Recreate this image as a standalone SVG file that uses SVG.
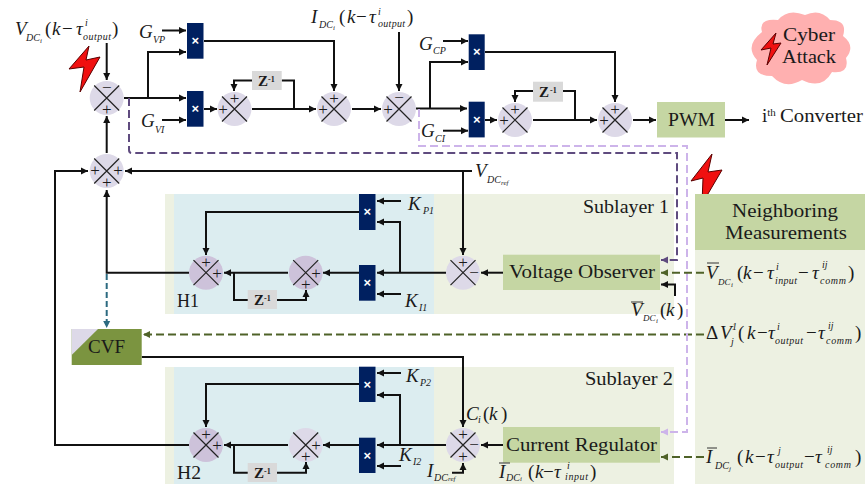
<svg xmlns="http://www.w3.org/2000/svg" xmlns:xlink="http://www.w3.org/1999/xlink" width="865" height="484" viewBox="0 0 865 484">
<style>
text{font-family:"Liberation Serif",serif;fill:#1a1a1a}
.t{font-size:19px}
.m{font-size:19px;font-style:italic}
.u{font-size:19px}
.s{font-size:10px;font-style:italic}
.ss{font-size:7px;font-style:italic}
.sg{font-size:17px;text-anchor:middle}
.wx{font-size:13px;font-weight:bold;fill:#fff;text-anchor:middle;font-family:"Liberation Sans",sans-serif}
.zb{font-size:15px;font-weight:bold}
.zs{font-size:8px;font-weight:bold}
.b{fill:none;stroke:#111;stroke-width:2}
.ba{fill:none;stroke:#111;stroke-width:2;marker-end:url(#ab)}
.dp{fill:none;stroke:#5f4b7f;stroke-width:2;stroke-dasharray:8 4;marker-end:url(#ap)}
.lp{fill:none;stroke:#cdb4ea;stroke-width:2;stroke-dasharray:8 4;marker-end:url(#al)}
.ol{fill:none;stroke:#4f6228;stroke-width:2;stroke-dasharray:8 4;marker-end:url(#ao)}
.te{fill:none;stroke:#2c6a80;stroke-width:2;stroke-dasharray:6 3;marker-end:url(#at)}
.x{fill:#002060}
.g{fill:#c5d6a3}
.z{fill:#d9d9d9}
.bar{stroke:#333;stroke-width:1;fill:none}
.bolt{fill:#f01010;stroke:#5a0000;stroke-width:1}
</style>
<defs>
<marker id="ab" markerUnits="userSpaceOnUse" markerWidth="8" markerHeight="8" refX="7" refY="4" orient="auto"><path d="M0,.5L7,4L0,7.500z" fill="#111"/></marker>
<marker id="ap" markerUnits="userSpaceOnUse" markerWidth="8" markerHeight="8" refX="7" refY="4" orient="auto"><path d="M0,.5L7,4L0,7.500z" fill="#5f4b7f"/></marker>
<marker id="al" markerUnits="userSpaceOnUse" markerWidth="8" markerHeight="8" refX="7" refY="4" orient="auto"><path d="M0,.5L7,4L0,7.500z" fill="#cdb4ea"/></marker>
<marker id="ao" markerUnits="userSpaceOnUse" markerWidth="8" markerHeight="8" refX="7" refY="4" orient="auto"><path d="M0,.5L7,4L0,7.500z" fill="#4f6228"/></marker>
<marker id="at" markerUnits="userSpaceOnUse" markerWidth="8" markerHeight="8" refX="7" refY="4" orient="auto"><path d="M0,.5L7,4L0,7.500z" fill="#2c6a80"/></marker>
<g id="sum"><circle r="17" fill="#ddd9e8"/><path d="M-12.500,-12.500L12.500,12.500M12.500,-12.500L-12.500,12.500" stroke="#222" stroke-width="1.200"/></g>
<g id="sumd"><circle r="17" fill="#cdc2da"/><path d="M-12.500,-12.500L12.500,12.500M12.500,-12.500L-12.500,12.500" stroke="#222" stroke-width="1.200"/></g>
</defs>
<rect width="865" height="484" fill="#fff"/>

<g id="panels">
<rect x="165" y="194" width="509" height="120" fill="#edf1e2"/>
<rect x="174" y="194" width="260" height="120" fill="#dcedf0"/>
<rect x="165" y="367" width="509" height="117" fill="#edf1e2"/>
<rect x="174" y="367" width="260" height="117" fill="#dcedf0"/>
<rect x="695" y="250" width="170" height="234" fill="#edf1e2"/>
</g>

<g id="connectors">
<path class="ba" d="M106.700,43V80"/>
<path class="ba" d="M124,98H186"/>
<path class="ba" d="M148,98V52H186"/>
<path class="ba" d="M162,30.500H186"/>
<path class="ba" d="M162,120H186"/>
<path class="ba" d="M204,41H334V91"/>
<path class="ba" d="M204,109H217"/>
<path class="ba" d="M252,80.500H234V91"/>
<path class="b" d="M281.700,80.500H294V109"/>
<path class="ba" d="M252,109H316"/>
<path class="ba" d="M352,109H381"/>
<path class="ba" d="M399,32V91"/>
<path class="ba" d="M416,108.500H467"/>
<path class="ba" d="M430,108.500V62H468"/>
<path class="ba" d="M443,41H468"/>
<path class="ba" d="M443,130.700H468"/>
<path class="ba" d="M485,120H497"/>
<path class="ba" d="M485,52H615V102"/>
<path class="ba" d="M533,91H515V102"/>
<path class="b" d="M563,91H575V120"/>
<path class="ba" d="M533,120H597"/>
<path class="ba" d="M633,120H656"/>
<path class="ba" d="M725,120H749"/>
<path class="ba" d="M472,171H125"/>
<path class="ba" d="M463,171V255"/>
<path class="ba" d="M106.700,153V116"/>
<path class="ba" d="M189,272.700H106.700V190"/>
<path class="ba" d="M189,445H55V171H88"/>
<path class="te" d="M106.700,274V328"/>
<path class="ol" d="M704,334.500H143"/>
<path class="ba" d="M141.700,357H463V427"/>
<path class="ba" d="M401,201H377"/>
<path class="ba" d="M401,294H377"/>
<path class="ba" d="M400,272.700V222H377"/>
<path class="ba" d="M359,212H206V255"/>
<path class="ba" d="M446,272.700H377"/>
<path class="ba" d="M359,272.700H323"/>
<path class="ba" d="M288,272.700H224"/>
<path class="b" d="M234,272.700V300H248"/>
<path class="ba" d="M277,300H306V290"/>
<path class="ba" d="M503,272.700H481"/>
<path class="dp" d="M129,98V150Q129,153 132,153H677V260H661"/>
<path class="lp" d="M419,109V146H687V432H661"/>
<path class="ol" d="M704,272.700H661"/>
<path class="ol" d="M704,457H661"/>
<path class="ba" d="M675,296V284.500H661"/>
<path class="ba" d="M503,445H481"/>
<path class="ba" d="M452,472.700H463V463"/>
<path class="ba" d="M401,373H377"/>
<path class="ba" d="M401,466H377"/>
<path class="ba" d="M400,445V395H377"/>
<path class="ba" d="M359,384H206V427"/>
<path class="ba" d="M446,445H377"/>
<path class="ba" d="M359,445H323"/>
<path class="ba" d="M288,445H224"/>
<path class="b" d="M234,445V472.700H248"/>
<path class="ba" d="M277,472.700H306V462"/>
</g>

<g id="sum-verr"><use href="#sum" x="106.700" y="98"/><text class="sg" x="106.700" y="93">−</text><text class="sg" x="106.700" y="115">+</text></g>
<g id="sum-ref"><use href="#sum" x="106.700" y="171"/><text class="sg" x="95" y="176">+</text><text class="sg" x="118" y="176">+</text><text class="sg" x="106.700" y="188">+</text></g>
<g id="mul-vp"><rect class="x" x="187" y="23" width="16.500" height="35.700"/><text class="wx" x="195.200" y="45">×</text></g>
<g id="mul-vi"><rect class="x" x="187" y="91" width="16.500" height="35.700"/><text class="wx" x="195.200" y="113">×</text></g>
<g id="sum-vi"><use href="#sum" x="234.500" y="109"/><text class="sg" x="234.500" y="104">+</text><text class="sg" x="223" y="115">+</text></g>
<g id="z-v"><rect class="z" x="252" y="71" width="29.700" height="19"/><text class="zb" x="258" y="86">Z</text><text class="zs" x="268" y="82">-1</text></g>
<g id="sum-v"><use href="#sum" x="334" y="109"/><text class="sg" x="334" y="104">+</text><text class="sg" x="323" y="115">+</text></g>
<g id="sum-i"><use href="#sum" x="399" y="109"/><text class="sg" x="399" y="103">−</text><text class="sg" x="388" y="115">+</text></g>
<g id="mul-cp"><rect class="x" x="468.700" y="34.300" width="16" height="35.700"/><text class="wx" x="476.700" y="56">×</text></g>
<g id="mul-ci"><rect class="x" x="468.700" y="101.700" width="16" height="35.700"/><text class="wx" x="476.700" y="124">×</text></g>
<g id="sum-ci"><use href="#sum" x="515" y="120"/><text class="sg" x="515" y="115">+</text><text class="sg" x="504" y="126">+</text></g>
<g id="z-c"><rect class="z" x="533" y="81.700" width="30" height="20"/><text class="zb" x="539" y="97">Z</text><text class="zs" x="550" y="93">-1</text></g>
<g id="sum-c"><use href="#sum" x="615" y="120"/><text class="sg" x="615" y="115">+</text><text class="sg" x="604" y="126">+</text></g>
<g id="pwm"><rect class="g" x="657" y="102" width="68" height="35.500"/><text class="t" x="668" y="126" textLength="47" lengthAdjust="spacingAndGlyphs">PWM</text></g>
<g id="converter"><text class="t" x="762" y="122">i<tspan font-size="11" dy="-6">th</tspan></text><text class="t" x="780" y="122" textLength="83" lengthAdjust="spacingAndGlyphs">Converter</text></g>
<g id="cloud"><path fill="#ffb0b0" d="M762,32Q758,18 778,20Q788,8 805,15Q820,8 830,20Q848,20 843,36Q856,46 846,58Q850,74 832,72Q822,90 802,80Q785,90 772,76Q752,76 757,60Q744,46 762,32Z"/><path class="bolt" d="M776,33L761,50L771,48L767,65L781,43L773,44Z"/><text class="t" x="783" y="41" textLength="52" lengthAdjust="spacingAndGlyphs">Cyber</text><text class="t" x="782" y="63" textLength="54" lengthAdjust="spacingAndGlyphs">Attack</text></g>
<g id="bolt-1"><path class="bolt" d="M89,46L69,69L84,67L80,92L100,57L86,60Z"/></g>
<g id="bolt-2"><path class="bolt" d="M712,154L691,181L703,178L702,204L722,170L708,172Z"/></g>

<g id="sublayer1-label"><text class="t" x="583" y="212.700" textLength="86" lengthAdjust="spacingAndGlyphs">Sublayer 1</text></g>
<g id="mul-kp1"><rect class="x" x="359" y="194" width="16.500" height="36"/><text class="wx" x="367.200" y="216">×</text></g>
<g id="mul-ki1"><rect class="x" x="359" y="265" width="16.500" height="35.700"/><text class="wx" x="367.200" y="287">×</text></g>
<g id="sum-h1"><use href="#sumd" x="206" y="272.700"/><text class="sg" x="206" y="268">+</text><text class="sg" x="217" y="279">+</text></g>
<g id="sum-i1"><use href="#sumd" x="305.700" y="272.700"/><text class="sg" x="316" y="279">+</text><text class="sg" x="305.700" y="290">+</text></g>
<g id="z-1"><rect class="z" x="247.700" y="290" width="29.300" height="19"/><text class="zb" x="254" y="305">Z</text><text class="zs" x="264" y="301">-1</text></g>
<g id="sum-e1"><use href="#sum" x="463" y="272.700"/><text class="sg" x="463" y="268">+</text><text class="sg" x="474" y="278">−</text></g>
<g id="h1"><text class="t" x="177" y="307" textLength="22" lengthAdjust="spacingAndGlyphs">H1</text></g>
<g id="voltage-observer"><rect class="g" x="503" y="254.700" width="157" height="35.300"/><text class="t" x="509" y="278" textLength="146" lengthAdjust="spacingAndGlyphs">Voltage Observer</text></g>
<g id="neighboring"><rect class="g" x="695" y="194" width="170" height="56"/><text class="t" x="732" y="217" textLength="106" lengthAdjust="spacingAndGlyphs">Neighboring</text><text class="t" x="725" y="239" textLength="122" lengthAdjust="spacingAndGlyphs">Measurements</text></g>
<g id="cvf"><rect x="71.700" y="329" width="70" height="36" fill="#7b9440"/><path d="M71.700,329H98L71.700,355z" fill="#ddd9e8"/><text class="t" x="88" y="352.700" textLength="37" lengthAdjust="spacingAndGlyphs">CVF</text></g>

<g id="sublayer2-label"><text class="t" x="585" y="385" textLength="88" lengthAdjust="spacingAndGlyphs">Sublayer 2</text></g>
<g id="mul-kp2"><rect class="x" x="359" y="366.700" width="16.500" height="35.300"/><text class="wx" x="367.200" y="389">×</text></g>
<g id="mul-ki2"><rect class="x" x="359" y="437.700" width="16.500" height="35.300"/><text class="wx" x="367.200" y="460">×</text></g>
<g id="sum-h2"><use href="#sumd" x="206" y="445"/><text class="sg" x="206" y="440">+</text><text class="sg" x="217" y="451">+</text></g>
<g id="sum-i2"><use href="#sum" x="305.700" y="445"/><text class="sg" x="316" y="451">+</text><text class="sg" x="305.700" y="462">+</text></g>
<g id="z-2"><rect class="z" x="247.700" y="463" width="29.300" height="19"/><text class="zb" x="254" y="478">Z</text><text class="zs" x="264" y="474">-1</text></g>
<g id="sum-e2"><use href="#sum" x="463" y="445"/><text class="sg" x="463" y="440">+</text><text class="sg" x="474" y="450">−</text><text class="sg" x="463" y="462">+</text></g>
<g id="h2"><text class="t" x="177" y="479" textLength="24" lengthAdjust="spacingAndGlyphs">H2</text></g>
<g id="current-regulator"><rect class="g" x="503" y="427" width="157" height="35.700"/><text class="t" x="506" y="450.700" textLength="151" lengthAdjust="spacingAndGlyphs">Current Regulator</text></g>

<g id="labels">
<g><text class="m" x="15" y="35">V</text><text class="s" x="26" y="41">DC</text><text class="ss" x="40" y="43">i</text><text class="u" x="45" y="35">(</text><text class="m" x="52" y="35">k</text><text class="u" x="62" y="35">−</text><text class="m" x="76" y="35">τ</text><text class="s" x="85" y="26">i</text><text class="s" x="83" y="40" textLength="28">output</text><text class="u" x="112" y="35">)</text></g>
<g><text class="m" x="139" y="38">G</text><text class="s" x="153" y="43">VP</text></g>
<g><text class="m" x="141" y="127">G</text><text class="s" x="155" y="133">VI</text></g>
<g><text class="m" x="311" y="23">I</text><text class="s" x="319" y="28">DC</text><text class="ss" x="333" y="30">i</text><text class="u" x="339" y="23">(</text><text class="m" x="347" y="23">k</text><text class="u" x="356" y="23">−</text><text class="m" x="369" y="23">τ</text><text class="s" x="378" y="15">i</text><text class="s" x="378" y="27" textLength="27">output</text><text class="u" x="407" y="23">)</text></g>
<g><text class="m" x="419" y="50">G</text><text class="s" x="433" y="54">CP</text></g>
<g><text class="m" x="421" y="137">G</text><text class="s" x="435" y="142">CI</text></g>
<g><text class="m" x="475" y="177">V</text><text class="s" x="487" y="183">DC</text><text class="ss" x="501" y="185">ref</text></g>
<g><text class="m" x="408" y="210">K</text><text class="s" x="423" y="214">P1</text></g>
<g><text class="m" x="405" y="307">K</text><text class="s" x="419" y="311">I1</text></g>
<g><text class="m" x="406" y="382">K</text><text class="s" x="420" y="386">P2</text></g>
<g><text class="m" x="399" y="461">K</text><text class="s" x="413" y="465">I2</text></g>
<g><text class="m" x="466" y="420">C</text><text class="s" x="478" y="423">i</text><text class="u" x="483" y="420">(</text><text class="m" x="489" y="420">k</text><text class="u" x="501" y="420">)</text></g>
<g><text class="m" x="427" y="477">I</text><text class="s" x="434" y="481">DC</text><text class="ss" x="448" y="481">ref</text></g>
<g><path class="bar" d="M499,463H510"/><text class="m" x="499" y="478">I</text><text class="s" x="506" y="481">DC</text><text class="ss" x="520" y="481">i</text><text class="u" x="528" y="478">(</text><text class="m" x="535" y="478">k</text><text class="u" x="543" y="478">−</text><text class="m" x="554" y="478">τ</text><text class="s" x="567" y="469">i</text><text class="s" x="565" y="480" textLength="23">input</text><text class="u" x="590" y="478">)</text></g>
<g><path class="bar" d="M631,302H643"/><text class="m" x="631" y="316">V</text><text class="s" x="643" y="321" font-size="9" style="font-size:9px">DC</text><text class="ss" x="656" y="323">i</text><text class="u" x="660" y="316">(</text><text class="m" x="666" y="316">k</text><text class="u" x="677" y="316">)</text></g>
<g><path class="bar" d="M707,263H719"/><text class="m" x="706" y="279">V</text><text class="s" x="718" y="285" style="font-size:9px">DC</text><text class="ss" x="731" y="287">i</text><text class="u" x="737" y="279">(</text><text class="m" x="743" y="279">k</text><text class="u" x="753" y="279">−</text><text class="m" x="767" y="279">τ</text><text class="s" x="776" y="270">i</text><text class="s" x="775" y="284" textLength="22">input</text><text class="u" x="798" y="279">−</text><text class="m" x="812" y="279">τ</text><text class="s" x="822" y="268">ij</text><text class="s" x="820" y="284" textLength="26">comm</text><text class="u" x="848" y="279">)</text></g>
<g><text class="u" x="706" y="339">Δ</text><text class="m" x="720" y="339">V</text><text class="s" x="732" y="330">1</text><text class="s" x="731" y="345">j</text><text class="u" x="738" y="339">(</text><text class="m" x="747" y="339">k</text><text class="u" x="757" y="339">−</text><text class="m" x="768" y="339">τ</text><text class="s" x="777" y="330">i</text><text class="s" x="775" y="344" textLength="28">output</text><text class="u" x="806" y="339">−</text><text class="m" x="818" y="339">τ</text><text class="s" x="828" y="329">ij</text><text class="s" x="826" y="344" textLength="26">comm</text><text class="u" x="855" y="339">)</text></g>
<g><path class="bar" d="M707,448H717"/><text class="m" x="706" y="463">I</text><text class="s" x="715" y="469">DC</text><text class="ss" x="729" y="471">j</text><text class="u" x="737" y="463">(</text><text class="m" x="745" y="463">k</text><text class="u" x="755" y="463">−</text><text class="m" x="767" y="463">τ</text><text class="s" x="778" y="454">j</text><text class="s" x="775" y="468" textLength="28">output</text><text class="u" x="804" y="463">−</text><text class="m" x="815" y="463">τ</text><text class="s" x="827" y="453">ij</text><text class="s" x="825" y="468" textLength="26">comm</text><text class="u" x="855" y="463">)</text></g>
</g>
</svg>
